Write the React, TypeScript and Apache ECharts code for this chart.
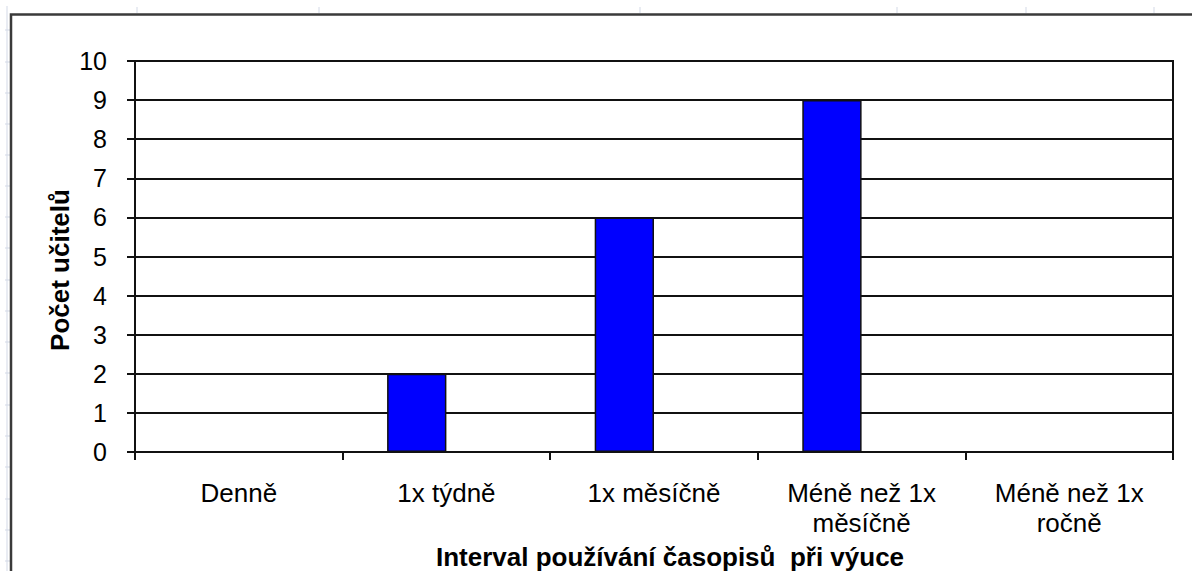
import React, { useEffect, useRef } from "react";
import * as echarts from "echarts";

const categories = ["Denně", "1x týdně", "1x měsíčně", "Méně než 1x\nměsíčně", "Méně než 1x\nročně"];
const teacherCounts = [0, 2, 6, 9, 0];
const emptySeries = [null, null, null, null, null];
const yMin = 0;
const yMax = 10;
const yStep = 1;
const xTitle = "Interval používání časopisů  při výuce";
const yTitle = "Počet učitelů";

const FONT = "'Liberation Sans', Arial, sans-serif";
const SHEET = "#d3d9e6";

const sheetCols = [137, 319, 640, 897, 1026, 1154];
const sheetRows = [30, 62, 93, 124, 155, 186, 217, 248, 280, 311, 342, 373, 405, 436, 467, 499, 530, 561];

export default function App() {
  const ref = useRef<HTMLDivElement>(null);
  useEffect(() => {
    if (!ref.current) return;
    const chart = echarts.init(ref.current, null, { renderer: "svg" });
    const graphics: any[] = [
      { type: "line", shape: { x1: 7, y1: 6, x2: 7, y2: 571 }, style: { stroke: SHEET, lineWidth: 1 } },
      ...sheetCols.map((x) => ({ type: "line", shape: { x1: x, y1: 7, x2: x, y2: 13 }, style: { stroke: SHEET, lineWidth: 1 } })),
      ...sheetRows.map((y) => ({ type: "line", shape: { x1: 5, y1: y, x2: 10, y2: y }, style: { stroke: SHEET, lineWidth: 1 } })),
      {
        type: "rect",
        shape: { x: 11, y: 14.5, width: 1300, height: 700 },
        style: { fill: "none", stroke: "#3a3a3a", lineWidth: 2.5 },
      },
      {
        type: "text",
        x: 670,
        y: 557,
        style: { text: xTitle, font: `bold 26px ${FONT}`, fill: "#000", textAlign: "center", textVerticalAlign: "middle" },
      },
      {
        type: "text",
        x: 60,
        y: 270,
        rotation: Math.PI / 2,
        style: { text: yTitle, font: `bold 26px ${FONT}`, fill: "#000", textAlign: "center", textVerticalAlign: "middle" },
      },
    ];
    chart.setOption({
      animation: false,
      backgroundColor: "#ffffff",
      textStyle: { fontFamily: FONT },
      grid: {
        left: 135,
        top: 61,
        width: 1038,
        height: 391,
        show: true,
        borderColor: "#111",
        borderWidth: 2,
        backgroundColor: "transparent",
      },
      xAxis: {
        type: "category",
        data: categories,
        boundaryGap: true,
        axisLine: { lineStyle: { color: "#111", width: 2 } },
        axisTick: { show: true, inside: false, length: 8, alignWithLabel: false, lineStyle: { color: "#111", width: 2 } },
        axisLabel: { color: "#000", fontSize: 26, lineHeight: 30, margin: 26, fontFamily: FONT, interval: 0 },
        splitLine: { show: false },
      },
      yAxis: {
        type: "value",
        min: yMin,
        max: yMax,
        interval: yStep,
        axisLine: { show: true, lineStyle: { color: "#111", width: 2 } },
        axisTick: { show: true, inside: false, length: 8, lineStyle: { color: "#111", width: 2 } },
        axisLabel: { color: "#000", fontSize: 25, margin: 28, fontFamily: FONT },
        splitLine: { show: true, lineStyle: { color: "#111", width: 2 } },
      },
      series: [
        {
          type: "bar",
          data: teacherCounts,
          barWidth: "28.57%",
          barGap: "0%",
          itemStyle: { color: "#0000ff", borderColor: "#111", borderWidth: 1.5 },
        },
        {
          type: "bar",
          data: emptySeries,
          barWidth: "28.57%",
          barGap: "0%",
          itemStyle: { color: "#ff00ff" },
        },
      ],
      graphic: { elements: graphics },
    });
    return () => chart.dispose();
  }, []);
  return <div ref={ref} style={{ position: "fixed", left: 0, top: 0, width: 1192, height: 571 }} />;
}
